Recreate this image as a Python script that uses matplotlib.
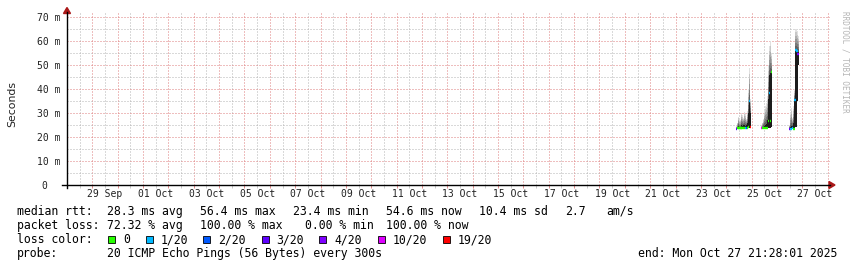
import matplotlib
matplotlib.use("Agg")
import matplotlib.pyplot as plt
import matplotlib.dates as mdates
from matplotlib.lines import Line2D
from matplotlib.patches import Polygon, Rectangle
import numpy as np
import pandas as pd

W, H = 857, 267
MONO = "DejaVu Sans Mono"

# ---------------- data ----------------
x_start = "2025-09-28 00:00"
x_end = "2025-10-28 02:10"

sample_times = [
    # Oct 24
    "2025-10-24 10:00", "2025-10-24 11:00", "2025-10-24 12:00", "2025-10-24 13:00",
    "2025-10-24 14:00", "2025-10-24 15:00", "2025-10-24 16:00", "2025-10-24 17:00",
    "2025-10-24 18:00", "2025-10-24 19:00", "2025-10-24 20:00", "2025-10-24 21:00",
    "2025-10-24 22:00", "2025-10-24 23:00",
    # Oct 25
    "2025-10-25 09:00", "2025-10-25 10:00", "2025-10-25 11:00", "2025-10-25 12:00",
    "2025-10-25 13:00", "2025-10-25 14:00", "2025-10-25 15:00", "2025-10-25 16:00",
    "2025-10-25 17:00", "2025-10-25 18:00", "2025-10-25 19:00",
    # Oct 26
    "2025-10-26 12:00", "2025-10-26 13:00", "2025-10-26 14:00", "2025-10-26 15:00",
    "2025-10-26 16:00", "2025-10-26 17:00", "2025-10-26 18:00", "2025-10-26 19:00",
    "2025-10-26 20:00",
]
median_ms = [
    23.4, 23.6, 23.7, 23.6, 23.8, 23.7, 23.8, 23.6, 23.6, 23.7, 23.9, 24.0, 35.1, 24.2,
    23.7, 23.7, 23.6, 23.7, 23.7, 23.8, 23.9, 26.7, 38.2, 26.5, 46.9,
    23.4, 23.5, 23.5, 23.6, 23.5, 35.4, 56.4, 56.0, 54.6,
]
loss_cat = [
    "3/20", "0", "0", "0", "0", "0", "0", "0", "1/20", "2/20", "0", "0", "1/20", "19/20",
    "10/20", "0", "0", "0", "0", "0", "0", "0", "1/20", "0", "0",
    "3/20", "1/20", "1/20", "1/20", "0", "1/20", "1/20", "1/20", "4/20",
]
smoke_lo = [
    23.2, 23.3, 23.3, 23.3, 23.4, 23.3, 23.4, 23.3, 23.3, 23.4, 23.5, 23.6, 23.8, 23.9,
    23.5, 23.4, 23.3, 23.4, 23.4, 23.4, 23.5, 23.6, 23.8, 23.8, 24.0,
    23.2, 23.3, 23.3, 23.4, 23.4, 23.5, 24.0, 35.0, 50.0,
]
smoke_core = [
    23.6, 24.0, 24.6, 24.2, 25.2, 24.6, 25.0, 24.8, 24.5, 25.0, 26.0, 30.0, 35.1, 30.0,
    23.8, 24.0, 24.3, 24.6, 25.0, 25.5, 27.0, 36.0, 46.0, 46.5, 47.0,
    23.6, 24.0, 24.5, 24.5, 26.0, 35.4, 56.4, 56.0, 55.5,
]
smoke_hi = [
    24.5, 26.0, 28.5, 27.0, 30.0, 29.0, 28.0, 30.5, 29.5, 27.5, 31.0, 40.0, 48.7, 36.0,
    24.5, 26.0, 27.5, 31.0, 33.0, 34.0, 37.0, 50.0, 58.0, 60.0, 55.0,
    25.0, 30.0, 32.0, 28.0, 33.0, 40.0, 65.0, 64.0, 62.0,
]

loss_classes = ["0", "1/20", "2/20", "3/20", "4/20", "10/20", "19/20"]
loss_colors = ["#26ff00", "#00b8ff", "#0059ff", "#5e00ff", "#7e00ff", "#dd00ff", "#ff0000"]

y_ticks = [0, 10, 20, 30, 40, 50, 60, 70]
y_tick_labels = ["0", "10 m", "20 m", "30 m", "40 m", "50 m", "60 m", "70 m"]
y_minor = [5, 15, 25, 35, 45, 55, 65]
x_label_dates = pd.date_range("2025-09-29 12:00", "2025-10-27 12:00", freq="2D")
x_tick_labels = [d.strftime("%d %b") for d in x_label_dates]

rtt_avg, rtt_max, rtt_min, rtt_now, rtt_sd, rtt_ams = 28.3, 56.4, 23.4, 54.6, 10.4, 2.7
loss_avg, loss_max, loss_min, loss_now = 72.32, 100.00, 0.00, 100.00
probe_text = "20 ICMP Echo Pings (56 Bytes) every 300s"
end_text = "end: Mon Oct 27 21:28:01 2025"

# ---------------- figure ----------------
fig = plt.figure(figsize=(W / 100, H / 100), dpi=100)
fig.patch.set_facecolor("white")


def fx(px):
    return px / W


def fy(py):
    return 1 - py / H


ax = fig.add_axes([fx(67), fy(185), fx(830) - fx(67), fy(13) - fy(185)])
ax.set_facecolor("white")
for s in ax.spines.values():
    s.set_visible(False)

ax.set_xlim(mdates.date2num(pd.Timestamp(x_start)), mdates.date2num(pd.Timestamp(x_end)))
ax.set_ylim(0, 172 / 2.4)

ax.xaxis.set_major_locator(mdates.DayLocator())
ax.xaxis.set_minor_locator(mdates.HourLocator(byhour=[12]))
ax.set_yticks(y_ticks)
ax.set_yticks(y_minor, minor=True)
ax.tick_params(axis="y", which="both", length=0, labelleft=False)
ax.tick_params(axis="x", which="both", labelbottom=False, direction="out", length=2.5, width=0.7)
ax.tick_params(axis="x", which="major", color="#e08a8a")
ax.tick_params(axis="x", which="minor", color="#c8c8c8")

dot = (0, (1, 2))
ax.grid(True, which="major", color="#de7f7f", linestyle=dot, linewidth=0.72)
ax.grid(True, which="minor", color="#b4b4b4", linestyle=dot, linewidth=0.72)
ax.set_axisbelow(True)

# smoke + medians
t = mdates.date2num(pd.to_datetime(sample_times))
hour = 1.0 / 24
lo = np.array(smoke_lo)
core = np.array(smoke_core)
hi = np.array(smoke_hi)
ax.bar(t, core - lo, bottom=lo, width=hour, color="#1c1c1c", linewidth=0, antialiased=False, zorder=2)
n_layers = 6
greys = np.linspace(0.38, 0.88, n_layers)
for k in range(n_layers):
    b = core + (hi - core) * k / n_layers
    h = (hi - core) / n_layers
    ax.bar(t, h, bottom=b, width=hour, color=str(greys[k]), linewidth=0, antialiased=False, zorder=2)

color_of = dict(zip(loss_classes, loss_colors))
for ti, m, c in zip(t, median_ms, loss_cat):
    ax.hlines(m, ti - 0.6 * hour, ti + 0.6 * hour, color=color_of[c], linewidth=1.7, zorder=3)

# axes lines and arrows
fig.add_artist(Line2D([fx(62), fx(830)], [fy(185), fy(185)], color="black", lw=1.0,
                      transform=fig.transFigure))
fig.add_artist(Line2D([fx(67), fx(67)], [fy(188), fy(12)], color="black", lw=1.0,
                      transform=fig.transFigure))
arrow_c = "#aa1818"
fig.add_artist(Polygon([[fx(835), fy(185)], [fx(829), fy(181.5)], [fx(829), fy(188.5)]],
                       closed=True, color=arrow_c, transform=fig.transFigure))
fig.add_artist(Polygon([[fx(67), fy(7.5)], [fx(63.5), fy(13.5)], [fx(70.5), fy(13.5)]],
                       closed=True, color=arrow_c, transform=fig.transFigure))

# y tick labels
ytr = ax.get_yaxis_transform()
for v, lab in zip(y_ticks, y_tick_labels):
    xr = 60.7 if lab.endswith("m") else 47.0
    ax.text((xr - 67) / 763, v, lab, transform=ytr, ha="right", va="center_baseline",
            fontsize=7, family=MONO, color="#222222", clip_on=False)

# x tick labels
xtr = ax.get_xaxis_transform()
for d, lab in zip(x_label_dates, x_tick_labels):
    ax.text(mdates.date2num(d), -(197 - 185) / 172, lab, transform=xtr, ha="center",
            va="baseline", fontsize=7, family=MONO, color="#222222", clip_on=False)

fig.text(fx(12), fy(104), "Seconds", rotation=90, ha="center", va="center",
         fontsize=7.8, family="DejaVu Sans", color="#222222")
fig.text(fx(845), fy(62), "RRDTOOL / TOBI OETIKER", rotation=270, ha="center", va="center",
         fontsize=5.5, family=MONO, color="#b5b5b5")

# legend / stats
LF = 8.3


def t_at(xpx, ypx, s):
    fig.text(fx(xpx), fy(ypx), s, ha="left", va="baseline", fontsize=LF, family=MONO,
             color="black")


b1, b2, b3, b4 = 215, 229, 243.3, 256.8
t_at(16.7, b1, "median rtt:")
t_at(107.3, b1, f"{rtt_avg:.1f} ms avg")
t_at(200, b1, f"{rtt_max:.1f} ms max")
t_at(293.3, b1, f"{rtt_min:.1f} ms min")
t_at(386, b1, f"{rtt_now:.1f} ms now")
t_at(479.3, b1, f"{rtt_sd:.1f} ms sd")
t_at(565, b1, f"{rtt_ams:.1f}")
t_at(606.7, b1, "am/s")

t_at(16.7, b2, "packet loss:")
t_at(107.3, b2, f"{loss_avg:.2f} % avg")
t_at(200, b2, f"{loss_max:.2f} % max")
t_at(305, b2, f"{loss_min:.2f} % min")
t_at(386, b2, f"{loss_now:.2f} % now")

t_at(16.7, b3, "loss color:")
box_x = [108.3, 146.0, 203.0, 261.7, 319.3, 377.7, 442.7]
for bx, lab, col in zip(box_x, loss_classes, loss_colors):
    fig.add_artist(Rectangle((fx(bx), fy(b3)), fx(7), fy(0) - fy(7.3), facecolor=col,
                             edgecolor="black", linewidth=0.6, transform=fig.transFigure))
    t_at(bx + 15, b3, lab)

t_at(16.7, b4, "probe:")
t_at(107.3, b4, probe_text)
t_at(638.3, b4, end_text)

fig.savefig("out.png", dpi=100, facecolor="white")
